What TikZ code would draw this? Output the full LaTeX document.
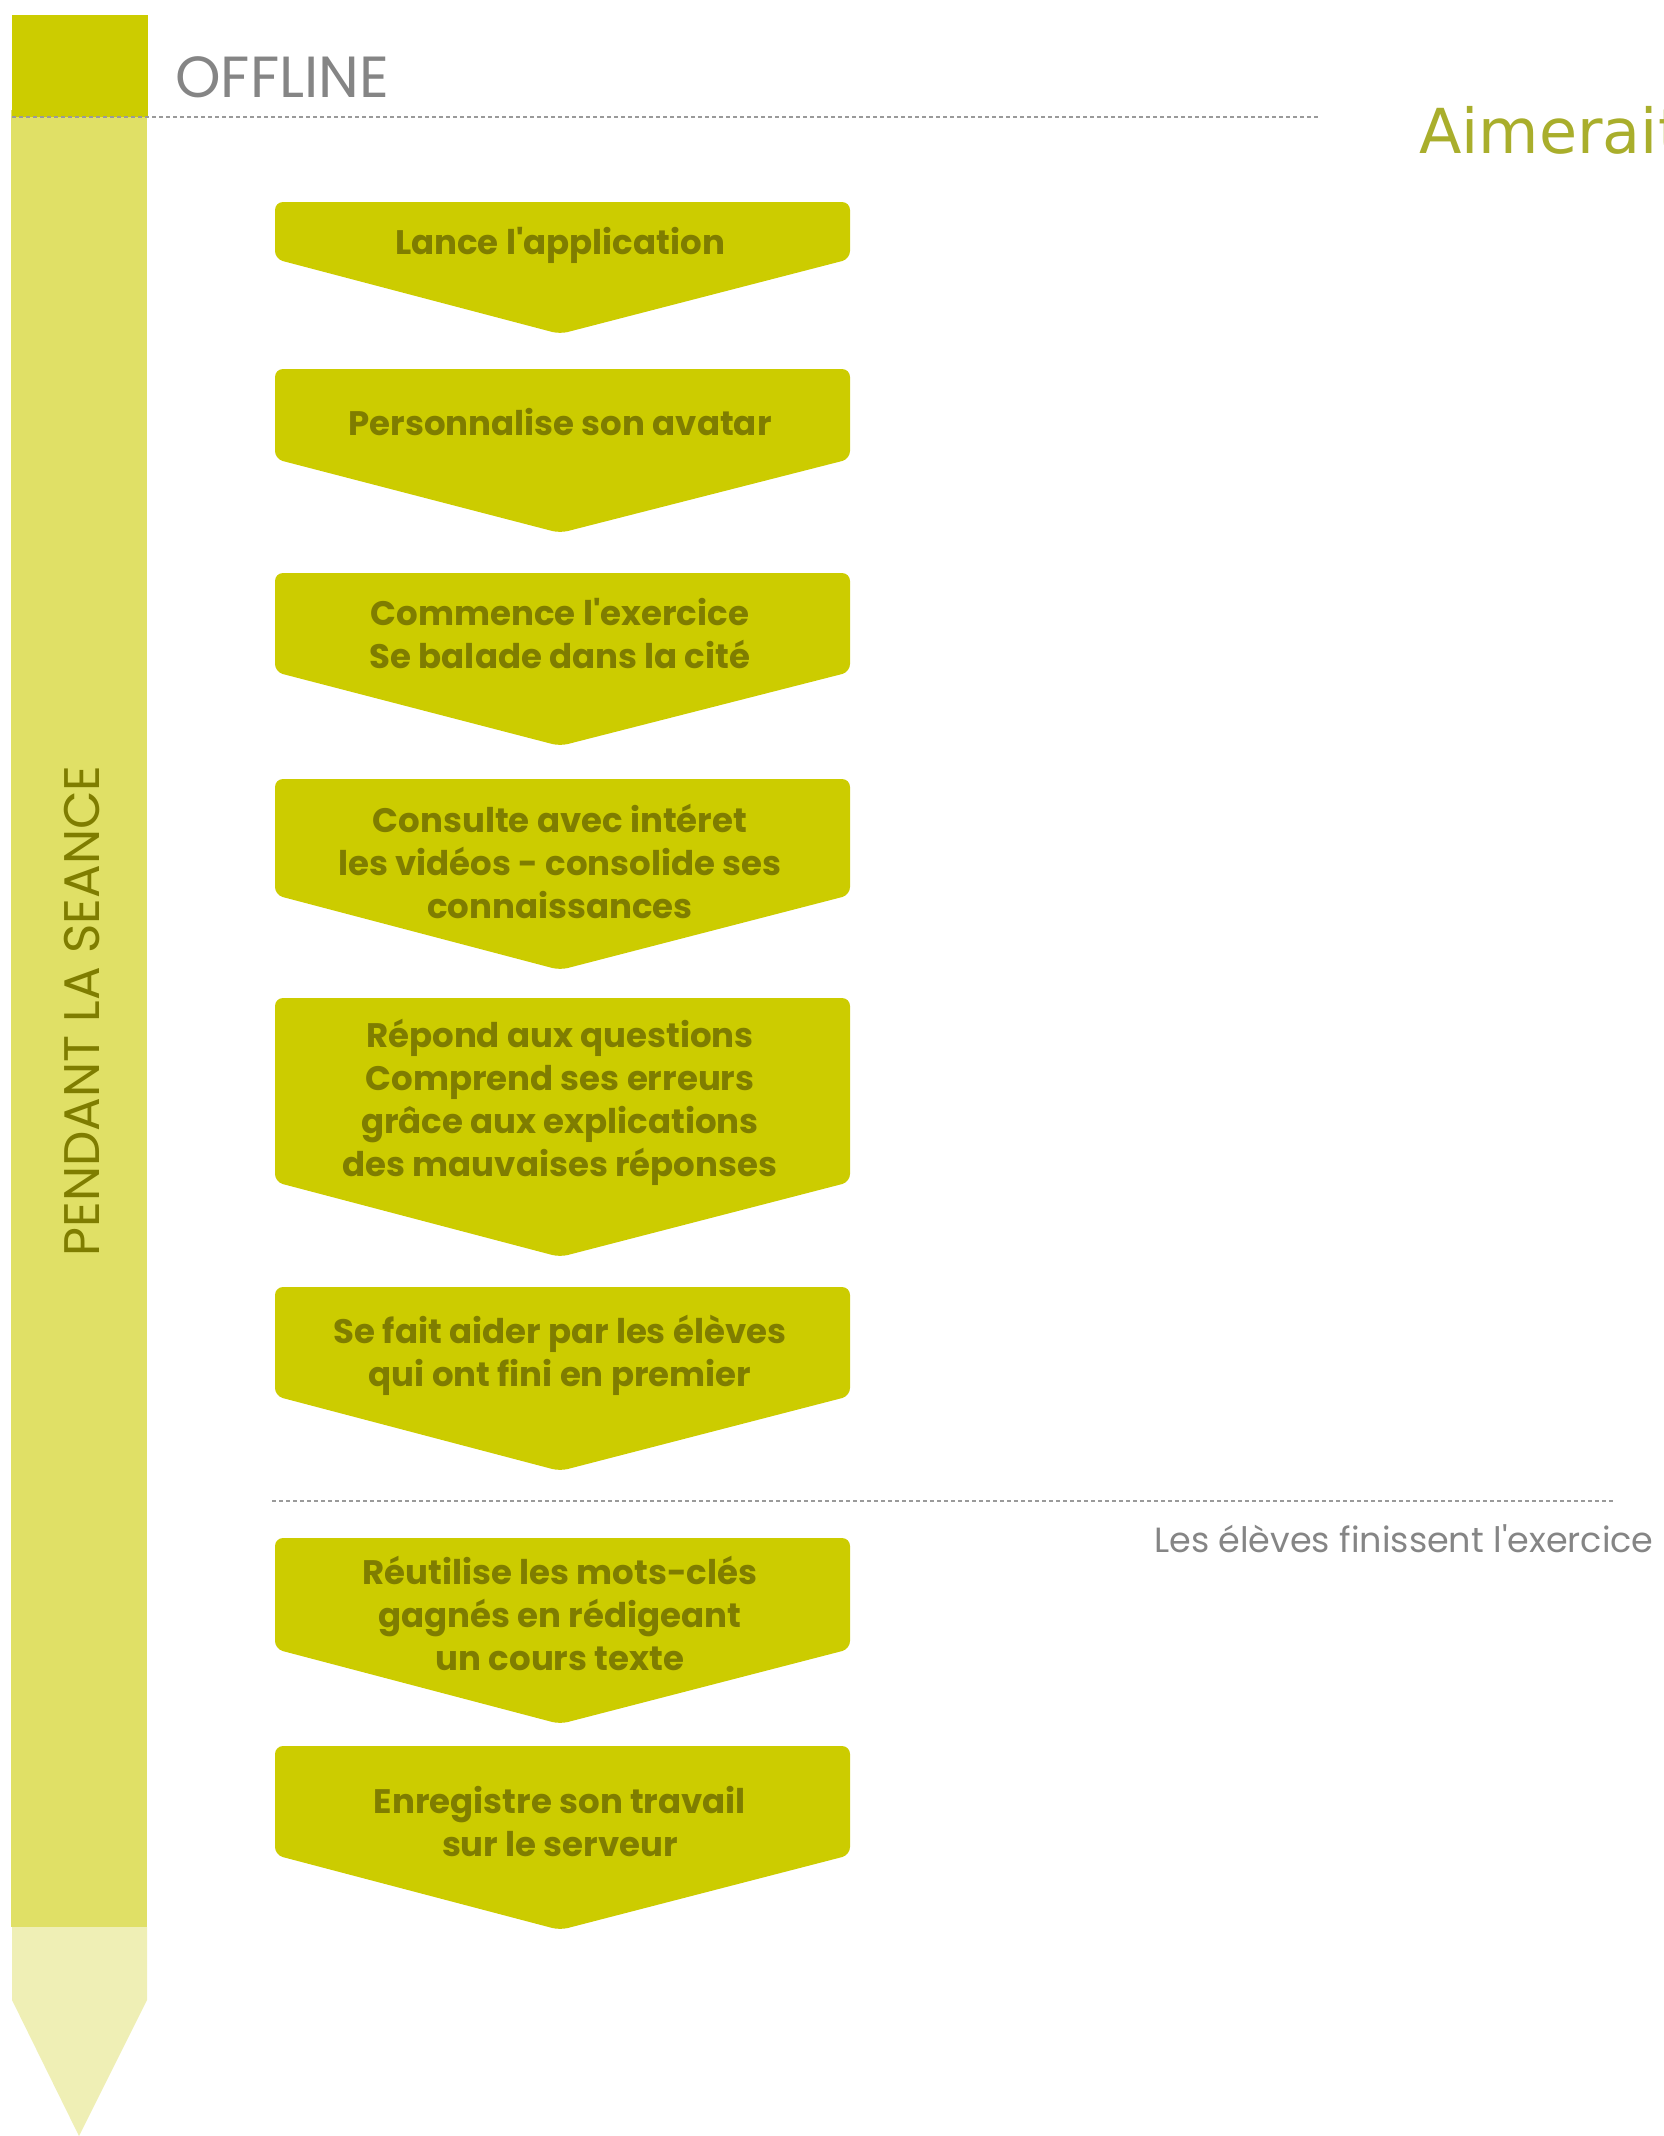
\documentclass[tikz,border=0pt]{standalone}
\usepackage{fontspec}
\setmainfont{Poppins}
\newfontfamily\titlefont{DejaVu Sans}
\usetikzlibrary{positioning}
\definecolor{cStep}{HTML}{CCCC00}
\definecolor{cStepText}{HTML}{7F7D00}
\definecolor{cBar}{HTML}{E0E066}
\definecolor{cBarTip}{HTML}{EFEFB5}
\definecolor{cRule}{HTML}{9A9A9A}
\definecolor{cGrey}{HTML}{858585}
\definecolor{cTitle}{HTML}{A9AE2C}

\begin{document}
\begin{tikzpicture}[
  x=1pt, y=-1pt,
  stepshape/.style={fill=cStep, rounded corners=8pt},
  steptext/.style={text=cStepText, align=center, inner sep=0pt,
              font=\fontsize{34}{43}\selectfont\bfseries},
  rule/.style={draw=cRule, line width=2pt, dash pattern=on 4pt off 3pt},
  greylbl/.style={text=cGrey, inner sep=0pt},
]
\useasboundingbox (0,0) rectangle (1663,2136);
\clip (0,0) rectangle (1663,2136);

% ---- time bar on the left ----
\fill[cBar] (11,110) rectangle (147,1927);
\fill[cBarTip] (12,1927) -- (147,1927) -- (147,2000) -- (79,2136) -- (12,2000) -- cycle;
\fill[cStep] (12,15) rectangle (148,117);
\node[text=cStepText, rotate=90, inner sep=0pt, font=\fontsize{50}{54}\selectfont] (seance)
  at (82,1011) {PENDANT LA SEANCE};

% ---- header ----
\node[greylbl, anchor=base west, font=\fontsize{58}{62}\selectfont] (offline)
  at (175,97) {OFFLINE};
\node[text=cTitle, anchor=base west, inner sep=0pt, font=\titlefont\fontsize{62}{68}\selectfont] (titre)
  at (1419,153) {Aimerait};
\draw[rule] (12,117) -- (1318,117);

% ---- steps ----
\fill[stepshape] (275,202) -- (850,202) -- (850,259) -- (560,334) -- (275,259) -- cycle;
\node[steptext] (lance) at (560,245) {Lance l\textquotesingle application};

\fill[stepshape] (275,369) -- (850,369) -- (850,459) -- (560,533) -- (275,459) -- cycle;
\node[steptext] (avatar) at (560,422) {Personnalise son avatar};

\fill[stepshape] (275,573) -- (850,573) -- (850,672) -- (560,746) -- (275,672) -- cycle;
\node[steptext] (exercice) at (560,634) {Commence l\textquotesingle exercice\\Se balade dans la cité};

\fill[stepshape] (275,779) -- (850,779) -- (850,895) -- (560,970) -- (275,895) -- cycle;
\node[steptext] (videos) at (560,861) {Consulte avec intéret\\les vidéos - consolide ses\\connaissances};

\fill[stepshape] (275,998) -- (850,998) -- (850,1182) -- (560,1257) -- (275,1182) -- cycle;
\node[steptext] (questions) at (560,1102)
  {Répond aux questions\\Comprend ses erreurs\\grâce aux explications\\des mauvaises réponses};

\fill[stepshape] (275,1287) -- (850,1287) -- (850,1396) -- (560,1471) -- (275,1396) -- cycle;
\node[steptext] (aide) at (560,1355) {Se fait aider par les élèves\\qui ont fini en premier};

% ---- end of the exercise ----
\draw[rule] (272,1501) -- (1614,1501);
\node[greylbl, anchor=base west, font=\fontsize{35}{40}\selectfont] (fin)
  at (1154,1552) {Les élèves finissent l\textquotesingle exercice};

\fill[stepshape] (275,1538) -- (850,1538) -- (850,1649) -- (560,1724) -- (275,1649) -- cycle;
\node[steptext] (motscles) at (560,1613) {Réutilise les mots-clés\\gagnés en rédigeant\\un cours texte};

\fill[stepshape] (275,1746) -- (850,1746) -- (850,1855) -- (560,1930) -- (275,1855) -- cycle;
\node[steptext] (serveur) at (560,1821) {Enregistre son travail\\sur le serveur};
\end{tikzpicture}
\end{document}
